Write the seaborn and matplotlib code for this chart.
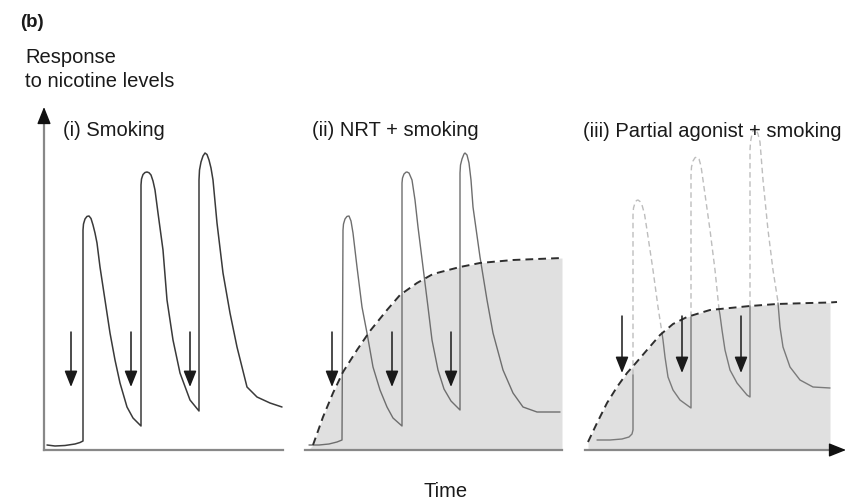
import matplotlib
matplotlib.use("Agg")
import matplotlib.pyplot as plt
import seaborn as sns

# --- values (time units, response units) ---

# (i) smoking only
smoke_i_t = [3, 11, 21, 31, 36, 39,
             39, 39.5, 41, 43, 45, 47, 49, 51, 53, 56, 61, 66, 71, 76, 83, 89, 97,
             97, 97.5, 99, 101, 103, 105, 107, 109, 111, 114, 119, 123, 129, 136, 146, 155,
             155, 155.5, 157, 159, 161, 163, 165, 167, 169, 173, 179, 186, 193, 203, 213, 226, 238]
smoke_i_r = [5, 4, 4.5, 6, 7.5, 9,
             220, 226, 231, 233.6, 234, 231.5, 225, 217, 207, 183, 150, 117, 90, 67, 43, 32, 24,
             265, 271, 275.5, 277.5, 278, 277.3, 275, 269, 260, 237, 200, 150, 110, 77, 50, 39,
             270, 280, 288, 294, 297, 295.5, 290, 282, 270, 227, 177, 137, 103, 63, 53, 47, 43]

# (ii) NRT + smoking
smoke_ii_t = [4, 14, 24, 32, 37,
              38, 38.5, 40, 42, 44, 46, 48, 50, 52, 57, 62, 68, 75, 82, 88, 97,
              97, 97.5, 99, 101, 102, 104, 107, 110, 113, 118, 123, 127, 133, 139, 146, 155,
              155, 155.5, 157, 159, 160, 162, 164, 166, 168, 175, 182, 188, 198, 208, 218, 232, 255]
smoke_ii_r = [5, 5, 6, 8, 10,
              220, 226, 231, 233.6, 234, 229, 217, 200, 183, 143, 117, 83, 60, 43, 32, 24,
              267, 272, 276, 277.8, 278, 277, 270, 250, 223, 183, 143, 110, 80, 61, 49, 40,
              277, 285, 291, 296, 297, 295, 287, 270, 243, 193, 150, 117, 80, 57, 43, 38, 38]
nrt_t = [5, 8, 18, 28, 38, 52, 65, 82, 95, 112, 128, 155, 175, 208, 257]
nrt_r = [2, 5, 33, 57, 78, 100, 119, 140, 155, 167, 176, 183, 187, 190, 192]

# (iii) partial agonist + smoking
agon_t = [3, 12, 22, 32, 42, 50, 62, 75, 88, 102, 115, 125, 145, 165, 192, 225, 245, 252]
agon_r = [8, 27, 47, 63, 77, 86, 100, 115, 126, 133, 137, 140, 142, 144, 146, 147, 147.5, 148]

blocked_t = [[12, 25, 37, 44, 47, 48, 48],
             [77, 78, 80, 83, 88, 95, 106, 106],
             [134, 135, 137, 140, 145, 152, 162, 165, 165],
             [193, 195, 198, 205, 215, 228, 245]]
blocked_r = [[10, 10, 11, 13, 16, 20, 75],
             [117, 110, 93, 73, 60, 50, 42, 133],
             [141, 135, 120, 100, 80, 67, 55, 53, 144],
             [147, 123, 103, 83, 70, 63, 62]]
ghost_t = [[48, 48, 48.5, 50, 51.5, 53, 55, 57, 59.5, 62, 68, 73, 77],
           [106, 106, 106.5, 108, 110, 112, 114, 116, 118, 125, 130, 134],
           [165, 165, 165.5, 167, 169, 171, 173, 175, 178, 183, 188, 193]]
ghost_r = [[75, 235, 242, 247, 249.5, 250, 248.5, 245, 236, 220, 180, 143, 117],
           [133, 275, 283, 289, 292.3, 293, 291, 284, 270, 220, 180, 141],
           [144, 300, 308, 316, 322, 320.5, 316, 308, 270, 220, 180, 148]]

cig_t_i = [27, 87, 146]
cig_t_iii = [37, 97, 156]

sns.set_theme(style="white")
plt.rcParams['font.family'] = ['Liberation Sans', 'DejaVu Sans']

W, H = 867, 500
fig = plt.figure(figsize=(8.67, 5), dpi=100)


def panel(left, width):
    ax = fig.add_axes([left / W, 50 / H, width / W, 350 / H])
    ax.set_xlim(0, width)
    ax.set_ylim(0, 350)
    ax.set_xticks([])
    ax.set_yticks([])
    ax.patch.set_alpha(0)
    for s in ax.spines.values():
        s.set_visible(False)
    ax.spines['bottom'].set_visible(True)
    ax.spines['bottom'].set_color('#888888')
    ax.spines['bottom'].set_linewidth(1.6)
    return ax


def arrow(ax, xy, xytext, color='#1a1a1a', lw=1.1, scale=14):
    ax.annotate("", xy=xy, xytext=xytext, annotation_clip=False,
                arrowprops=dict(arrowstyle="-|>,head_length=0.7,head_width=0.28",
                                color=color, lw=lw, mutation_scale=scale,
                                shrinkA=0, shrinkB=0), zorder=5)


def curve(ax, t, r, **kw):
    sns.lineplot(x=t, y=r, ax=ax, sort=False, estimator=None,
                 solid_joinstyle='round', dash_joinstyle='round', **kw)


ax1 = panel(44, 246)
ax2 = panel(305, 260)
ax3 = panel(585, 270)

# axes lines
ax1.spines['bottom'].set_bounds(0, 239)
ax1.spines['left'].set_visible(True)
ax1.spines['left'].set_color('#888888')
ax1.spines['left'].set_linewidth(1.6)
ax1.spines['left'].set_bounds(0, 330)
arrow(ax1, (0, 343), (0, 328), color='#111111', lw=1.0, scale=15)
ax2.spines['bottom'].set_bounds(0, 257)
ax3.spines['bottom'].set_bounds(0, 250)
arrow(ax3, (261, 0), (246, 0), color='#111111', lw=1.0, scale=15)

# (i)
curve(ax1, smoke_i_t, smoke_i_r, color='#3a3a3a', lw=1.1, zorder=3)
for t in cig_t_i:
    arrow(ax1, (t, 63), (t, 118))

# (ii)
ax2.fill_between(nrt_t, nrt_r, 0, color='#e0e0e0', lw=0, zorder=1)
curve(ax2, smoke_ii_t, smoke_ii_r, color='#6e6e6e', lw=1.0, zorder=3)
curve(ax2, nrt_t[1:], nrt_r[1:], color='#2e2e2e', lw=1.4,
      linestyle=(0, (4, 2.6)), zorder=4)
for t in cig_t_i:
    arrow(ax2, (t, 63), (t, 118))

# (iii)
ax3.fill_between(agon_t[:-1], agon_r[:-1], 0, color='#e0e0e0', lw=0, zorder=1)
for gt, gr in zip(ghost_t, ghost_r):
    curve(ax3, gt, gr, color='#bdbdbd', lw=1.0, linestyle=(0, (4, 2.6)), zorder=2)
for bt, br in zip(blocked_t, blocked_r):
    curve(ax3, bt, br, color='#7a7a7a', lw=1.0, zorder=3)
curve(ax3, agon_t, agon_r, color='#2e2e2e', lw=1.4,
      linestyle=(0, (4, 2.6)), zorder=4)
for t in cig_t_iii:
    arrow(ax3, (t, 77), (t, 134))


def ftext(x, y, s, **kw):
    fig.text(x / W, 1 - y / H, s, va='baseline', color='#1a1a1a', **kw)


ftext(20, 27, "(b)", fontsize=13.5, fontweight='bold')
ftext(25, 63, "Response", fontsize=14.5)
ftext(25, 87, "to nicotine levels", fontsize=14.5)
ftext(63, 136, "(i) Smoking", fontsize=14.5)
ftext(312, 136, "(ii) NRT + smoking", fontsize=14.5)
ftext(583, 137, "(iii) Partial agonist + smoking", fontsize=14.5)
ftext(446, 497, "Time", fontsize=14.5, ha='center')

fig.savefig("out.png", dpi=100)
